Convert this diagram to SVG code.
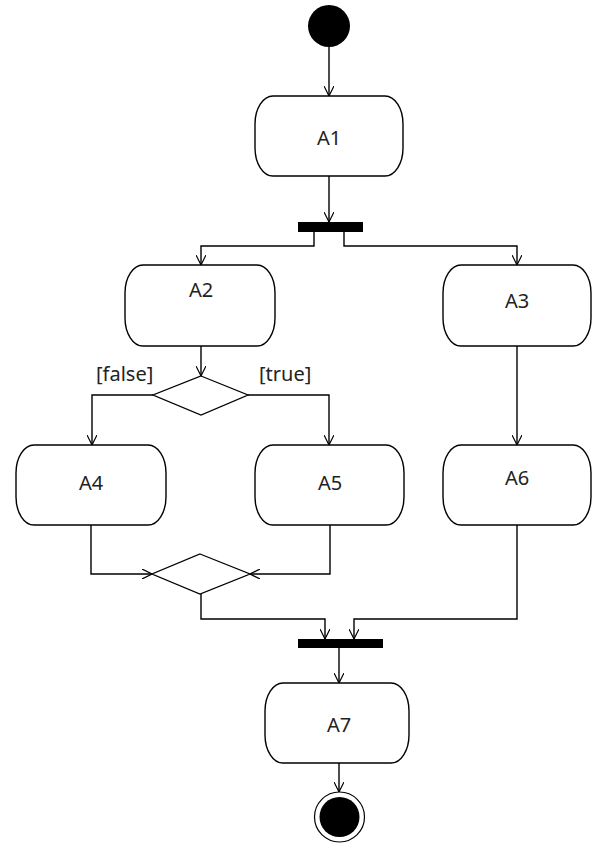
<svg xmlns="http://www.w3.org/2000/svg" width="595" height="845" viewBox="0 0 595 845">
<defs>
<style>
.act{fill:#fff;stroke:#000;stroke-width:1.4}
.dia{fill:#fff;stroke:#000;stroke-width:1.3}
.bar{fill:#000}
.lbl{font-family:"Noto Sans","Open Sans",sans-serif;font-size:20px;fill:#222;text-anchor:middle}
.grd{font-family:"Noto Sans","Open Sans",sans-serif;font-size:20px;fill:#222}
.edge{fill:none;stroke:#000;stroke-width:1.4;marker-end:url(#arr)}
</style>
<marker id="arr" viewBox="0 0 10 10" refX="10" refY="5" markerWidth="10" markerHeight="10" markerUnits="userSpaceOnUse" orient="auto">
<path d="M0,0 L10,5 L0,10" fill="none" stroke="#000" stroke-width="1.2"/>
</marker>
</defs>
<rect width="595" height="845" fill="#fff"/>
<g id="connectors">
<path class="edge" d="M329,47 V96"/>
<path class="edge" d="M329,176 V222"/>
<path class="edge" d="M314,232 V246 H201 V265"/>
<path class="edge" d="M344,232 V246 H517 V265"/>
<path class="edge" d="M201,346 V376"/>
<path class="edge" d="M153,395 H92 V445"/>
<path class="edge" d="M248,395 H329 V445"/>
<path class="edge" d="M517,346 V445"/>
<path class="edge" d="M91,525 V574 H152"/>
<path class="edge" d="M330,525 V574 H250"/>
<path class="edge" d="M201,594 V619 H325 V639"/>
<path class="edge" d="M517,525 V619 H354 V639"/>
<path class="edge" d="M339,648 V683"/>
<path class="edge" d="M339,763 V792"/>
<text class="grd" x="96" y="381">[false]</text>
<text class="grd" x="259" y="381">[true]</text>
</g>
<g id="start"><circle cx="329" cy="26" r="21" fill="#000"/></g>
<g id="A1"><rect class="act" x="255" y="96" width="148" height="80" rx="18" ry="28"/><text class="lbl" x="329" y="145">A1</text></g>
<g id="fork"><rect class="bar" x="298" y="222" width="65" height="10"/></g>
<g id="A2"><rect class="act" x="125" y="265" width="150" height="81" rx="18" ry="28"/><text class="lbl" x="201" y="297">A2</text></g>
<g id="A3"><rect class="act" x="443" y="265" width="148" height="81" rx="18" ry="28"/><text class="lbl" x="517" y="308">A3</text></g>
<g id="decision"><polygon class="dia" points="201,376 248,395 201,415 153,395"/></g>
<g id="A4"><rect class="act" x="16" y="445" width="150" height="80" rx="18" ry="28"/><text class="lbl" x="91" y="490">A4</text></g>
<g id="A5"><rect class="act" x="255" y="445" width="149" height="80" rx="18" ry="28"/><text class="lbl" x="330" y="490">A5</text></g>
<g id="A6"><rect class="act" x="443" y="445" width="148" height="80" rx="18" ry="28"/><text class="lbl" x="517" y="485">A6</text></g>
<g id="merge"><polygon class="dia" points="200,554 250,574 200,594 152,574"/></g>
<g id="join"><rect class="bar" x="298" y="639" width="85" height="9"/></g>
<g id="A7"><rect class="act" x="265" y="683" width="144" height="80" rx="18" ry="28"/><text class="lbl" x="339" y="732">A7</text></g>
<g id="end"><circle cx="339.5" cy="817" r="25" fill="#fff" stroke="#000" stroke-width="1.2"/><circle cx="339.5" cy="817" r="20" fill="#000"/></g>
</svg>
